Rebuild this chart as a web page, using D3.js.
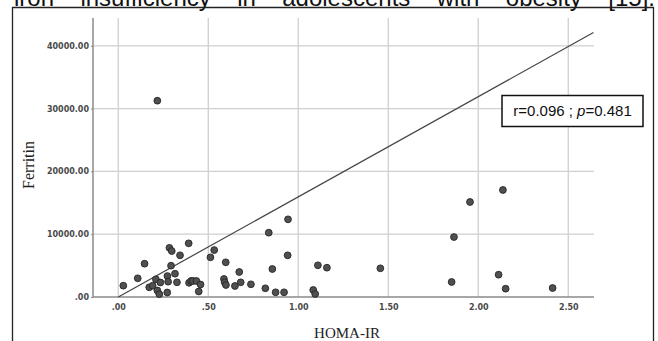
<!DOCTYPE html>
<html>
<head>
<meta charset="utf-8">
<script src="https://cdn.jsdelivr.net/npm/d3@7"></script>
<style>
  body { margin: 0; background: #fff; }
  svg { display: block; }
</style>
</head>
<body>
<svg id="chart" width="658" height="341"></svg>
<script>
// HOMA-IR vs Ferritin
const homaIR = [0.028, 0.108, 0.146, 0.172, 0.191, 0.209, 0.217, 0.228, 0.234, 0.272,
  0.273, 0.277, 0.284, 0.297, 0.293, 0.315, 0.326, 0.343, 0.391, 0.393,
  0.404, 0.415, 0.434, 0.447, 0.457, 0.512, 0.533, 0.587, 0.591, 0.597,
  0.598, 0.648, 0.672, 0.680, 0.737, 0.817, 0.856, 0.874, 0.921, 0.941,
  1.083, 1.094, 1.109, 1.159, 1.456, 1.852, 2.113, 2.152, 2.413, 0.217,
  0.836, 0.943, 1.865, 1.954, 2.137];
const ferritin = [1800, 2980, 5300, 1545, 1800, 2820, 1035, 450, 2310, 715,
  3340, 2440, 7830, 7320, 4985, 3710, 2340, 6640, 8550, 2260,
  2550, 2550, 2550, 875, 1990, 6320, 7480, 2870, 2340, 5525,
  1910, 1750, 3980, 2340, 2020, 1385, 4460, 750, 750, 6640,
  1115, 480, 5050, 4665, 4570, 2390, 3550, 1320, 1430, 31260,
  10240, 12370, 9550, 15130, 17040];

const xTicks = [0, 0.5, 1.0, 1.5, 2.0, 2.5];
const yTicks = [0, 10000, 20000, 30000, 40000];
const fitLine = { intercept: 0, slope: 15950 };
const statText = ['r=0.096 ; ', 'p', '=0.481'];
const caption = 'iron insufficiency in adolescents with obesity [15].';

const plot = { left: 93, right: 594, top: 18, bottom: 297 };

const svg = d3.select('#chart');

const x = d3.scaleLinear().domain([-0.1405, 2.643]).range([plot.left, plot.right]);
const y = d3.scaleLinear().domain([0, 44430]).range([plot.bottom, plot.top]);

// caption, clipped at the top like the source figure
const cap = svg.append('text')
  .attr('x', 14)
  .attr('y', 6)
  .attr('font-family', 'Liberation Sans, Arial, sans-serif')
  .attr('font-size', 24)
  .attr('fill', '#111')
  .text(caption);
const capW = cap.node().getComputedTextLength();
const nSpaces = caption.split(' ').length - 1;
cap.attr('word-spacing', (655 - 14 - capW) / nSpaces);

// outer frame
svg.append('path')
  .attr('d', `M12.5,341 V7.5 H653.5 V341`)
  .attr('fill', 'none')
  .attr('stroke', '#222')
  .attr('stroke-width', 1.3);

// grid
svg.append('g').selectAll('line')
  .data(xTicks)
  .enter()
  .append('line')
  .attr('x1', d => x(d)).attr('x2', d => x(d))
  .attr('y1', plot.top).attr('y2', plot.bottom)
  .attr('stroke', '#cfcfcf')
  .attr('stroke-width', 1.3);

svg.append('g').selectAll('line')
  .data(yTicks.filter(d => d > 0))
  .enter()
  .append('line')
  .attr('x1', plot.left).attr('x2', plot.right)
  .attr('y1', d => y(d)).attr('y2', d => y(d))
  .attr('stroke', '#cfcfcf')
  .attr('stroke-width', 1.3);

// axes
const fmt = d => d3.format('.2f')(d).replace(/^0/, '');
const xAxis = d3.axisBottom(x)
  .tickValues(xTicks)
  .tickSize(0)
  .tickPadding(7)
  .tickFormat(fmt);
const yAxis = d3.axisLeft(y)
  .tickValues(yTicks)
  .tickSize(2)
  .tickPadding(2)
  .tickFormat(fmt);

const gx = svg.append('g')
  .attr('transform', `translate(0,${plot.bottom})`)
  .call(xAxis);
gx.select('.domain').attr('d', `M${plot.left},0H${plot.right}`);

const gy = svg.append('g')
  .attr('transform', `translate(${plot.left},0)`)
  .call(yAxis);
gy.select('.domain').attr('d', `M0,${plot.top}V${plot.bottom}`);

svg.selectAll('.domain').attr('stroke', '#8a8a8a').attr('stroke-width', 1.5);
svg.selectAll('.tick line').attr('stroke', '#8a8a8a');
svg.selectAll('.tick text')
  .attr('font-family', 'DejaVu Sans, sans-serif')
  .attr('font-size', 8)
  .attr('font-weight', 'bold')
  .attr('fill', '#4a4a4a');

// fit line
svg.append('line')
  .attr('x1', x(0)).attr('y1', y(fitLine.intercept))
  .attr('x2', x(2.64)).attr('y2', y(fitLine.intercept + fitLine.slope * 2.64))
  .attr('stroke', '#444')
  .attr('stroke-width', 1.2);

// points
svg.append('g').selectAll('circle')
  .data(d3.zip(homaIR, ferritin))
  .enter()
  .append('circle')
  .attr('cx', d => x(d[0]))
  .attr('cy', d => y(d[1]))
  .attr('r', 3.4)
  .attr('fill', '#505050')
  .attr('stroke', '#262626')
  .attr('stroke-width', 0.9);

// axis titles
svg.append('text')
  .attr('x', 347)
  .attr('y', 338)
  .attr('text-anchor', 'middle')
  .attr('font-family', 'Liberation Serif, Times New Roman, serif')
  .attr('font-size', 15)
  .attr('fill', '#222')
  .text('HOMA-IR');

svg.append('text')
  .attr('transform', 'translate(34,165) rotate(-90)')
  .attr('text-anchor', 'middle')
  .attr('font-family', 'Liberation Serif, Times New Roman, serif')
  .attr('font-size', 16)
  .attr('fill', '#222')
  .text('Ferritin');

// stats box
svg.append('rect')
  .attr('x', 502).attr('y', 95.5)
  .attr('width', 141).attr('height', 31)
  .attr('fill', '#fff')
  .attr('stroke', '#111')
  .attr('stroke-width', 1.5);

const st = svg.append('text')
  .attr('x', 572.5)
  .attr('y', 116)
  .attr('text-anchor', 'middle')
  .attr('font-family', 'Liberation Sans, Arial, sans-serif')
  .attr('font-size', 15)
  .attr('fill', '#111');
st.append('tspan').text(statText[0]);
st.append('tspan').attr('font-style', 'italic').text(statText[1]);
st.append('tspan').text(statText[2]);
</script>
</body>
</html>
